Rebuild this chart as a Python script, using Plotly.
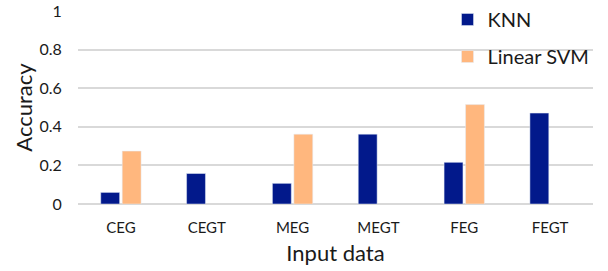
import plotly.graph_objects as go

categories = ["CEG", "CEGT", "MEG", "MEGT", "FEG", "FEGT"]
knn = [0.06, 0.158, 0.107, 0.362, 0.216, 0.471]
linear_svm = [0.274, None, 0.362, None, 0.515, None]
y_ticks = [0, 0.2, 0.4, 0.6, 0.8, 1]
y_tick_labels = ["0", "0.2", "0.4", "0.6", "0.8", "1"]

FONT = "Lato"
TXT = "#1a1a1a"

fig = go.Figure()
fig.add_trace(go.Bar(x=categories, y=knn, name="KNN", marker_color="#02198B",
                     legendgroup="a"))
fig.add_trace(go.Bar(x=categories, y=linear_svm, name="Linear SVM",
                     marker_color="#FFB77E", legendgroup="b"))

fig.update_layout(
    width=608, height=271,
    margin=dict(l=78, r=15, t=10.5, b=67, autoexpand=False),
    paper_bgcolor="white", plot_bgcolor="white",
    barmode="group", bargap=0.5, bargroupgap=0.12,
    font=dict(family=FONT, color=TXT),
    showlegend=True,
    legend=dict(x=0.7175, y=1.057, xanchor="left", yanchor="top",
                font=dict(size=20, color=TXT, family=FONT),
                bgcolor="rgba(0,0,0,0)", traceorder="grouped",
                tracegroupgap=8),
    xaxis=dict(showgrid=False, showline=False, automargin=False,
               ticks="outside", ticklen=10, tickcolor="rgba(0,0,0,0)",
               tickfont=dict(size=15, color=TXT),
               title=dict(text="Input data", font=dict(size=22, color=TXT),
                          standoff=10)),
    yaxis=dict(range=[0, 1], tickvals=y_ticks, ticktext=y_tick_labels,
               automargin=False,
               showgrid=True, gridcolor="#D9D9D9", gridwidth=1.5,
               zeroline=True, zerolinecolor="#D9D9D9", zerolinewidth=1.5,
               showline=False, ticks="outside", ticklen=12,
               tickcolor="rgba(0,0,0,0)",
               tickfont=dict(size=16, color=TXT),
               title=dict(text="Accuracy", font=dict(size=22, color=TXT),
                          standoff=0)),
)

fig.write_html(
    "out.html",
    config={"displayModeBar": False},
    post_script="document.body.style.margin='0';"
                "document.body.style.overflow='hidden';",
)
